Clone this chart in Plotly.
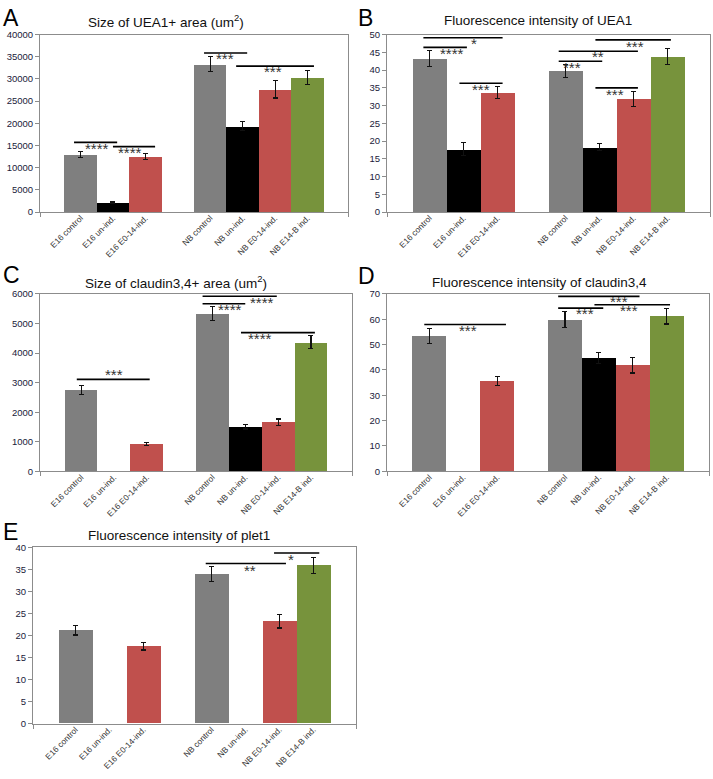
import plotly.graph_objects as go

W, H = 713, 779

# ---------------- data ----------------
categories = ["E16 control", "E16 un-ind.", "E16 E0-14-ind.",
              "NB control", "NB un-ind.", "NB E0-14-ind.", "NB E14-B ind."]
positions = [0, 1, 2, 4, 5, 6, 7]
bar_colors = ["#7f7f7f", "#000000", "#c0504d", "#7f7f7f", "#000000", "#c0504d", "#77933c"]

titles = ["Size of UEA1+ area (um<sup>2</sup>)",
          "Fluorescence intensity of UEA1",
          "Size of claudin3,4+ area (um<sup>2</sup>)",
          "Fluorescence intensity of claudin3,4",
          "Fluorescence intensity of plet1"]
letters = ["A", "B", "C", "D", "E"]

uea1_area = [13000, 2200, 12500, 33300, 19350, 27700, 30400]
uea1_area_err = [700, 150, 650, 1700, 1000, 2000, 1600]

uea1_int = [43.3, 17.7, 33.6, 39.8, 18.3, 31.9, 43.8]
uea1_int_err = [2.3, 1.8, 1.7, 1.9, 0.9, 2.1, 2.3]

cld_area = [2760, None, 935, 5330, 1500, 1660, 4360]
cld_area_err = [150, None, 55, 245, 70, 110, 220]

cld_int = [53.5, None, 35.7, 59.9, 44.7, 41.8, 61.2]
cld_int_err = [2.9, None, 1.7, 3.1, 2.0, 3.0, 3.1]

plet1_int = [21.2, None, 17.55, 33.9, None, 23.2, 35.9]
plet1_int_err = [1.1, None, 0.85, 1.75, None, 1.5, 1.85]

series = [uea1_area, uea1_int, cld_area, cld_int, plet1_int]
series_err = [uea1_area_err, uea1_int_err, cld_area_err, cld_int_err, plet1_int_err]
y_max = [40000, 50, 6000, 70, 40]
y_step = [5000, 5, 1000, 10, 5]

# significance brackets: (x_start, x_end, y_line, label, label_x, label_y)
brackets = [
    [(-0.2, 1.13, 15700, "****", 0.5, 14300),
     (1.0, 2.3, 14750, "****", 1.53, 13350),
     (3.81, 5.14, 35850, "***", 4.46, 34700),
     (4.8, 7.2, 32900, "***", 5.94, 31600)],
    [(-0.18, 2.15, 49.1, "*", 1.3, 47.4),
     (-0.18, 1.1, 46.4, "****", 0.65, 44.6),
     (0.88, 2.15, 36.3, "***", 1.52, 34.5),
     (4.88, 7.1, 48.5, "***", 6.03, 46.55),
     (3.8, 6.13, 45.3, "**", 4.97, 43.7),
     (3.8, 5.08, 42.5, "***", 4.2, 40.7),
     (4.88, 6.13, 35.0, "***", 5.47, 33.1)],
    [(-0.13, 2.09, 3110, "***", 0.99, 3260),
     (3.7, 5.96, 5920, "****", 5.5, 5720),
     (3.7, 5.0, 5665, "****", 4.52, 5460),
     (4.87, 7.12, 4690, "****", 5.46, 4490)],
    [(-0.15, 2.26, 57.9, "***", 1.15, 55.7),
     (3.8, 6.2, 69.0, "***", 5.6, 67.0),
     (4.87, 7.1, 65.7, "***", 5.9, 63.5),
     (3.8, 5.13, 64.4, "***", 4.59, 62.2)],
    [(3.83, 6.19, 36.3, "**", 5.13, 34.7),
     (5.84, 7.17, 38.7, "*", 6.33, 37.3)],
]

# ---------------- layout geometry (pixels) ----------------
rects = [(40, 348, 29, 209), (387, 710, 29, 209),
         (40, 352, 292, 472), (387, 709, 292, 472),
         (33, 356, 549, 728)]
title_pos = [(166, 15), (538, 15), (176, 280), (539, 280), (179, 537)]
letter_pos = [(1, 12), (356, 12), (1, 273), (356, 274), (1, 534)]

def px(x):
    return x / W

def py(y):
    return 1 - y / H

fig = go.Figure()
layout = {}
annotations = []
shapes = []

for i in range(5):
    n = "" if i == 0 else str(i + 1)
    xa, ya = "x" + n, "y" + n
    fig.add_trace(go.Bar(
        x=positions, y=series[i], width=1.0,
        marker=dict(color=bar_colors, line=dict(width=0)),
        error_y=dict(type="data", array=series_err[i], visible=True,
                     color="#111111", thickness=1.1, width=2.5),
        xaxis=xa, yaxis=ya, showlegend=False, hoverinfo="skip",
    ))
    l, r, t, b = rects[i]
    layout["xaxis" + n] = dict(
        domain=[px(l), px(r)], anchor=ya, range=[-1.25, 8.25],
        tickmode="array", tickvals=positions, ticktext=categories,
        tickangle=-45, ticks="", showline=True, linecolor="#8c8c8c",
        linewidth=1, mirror=True, showgrid=False, zeroline=False,
        ticklabelstandoff=-3,
        tickfont=dict(family="Liberation Sans, Arial", size=8.3, color="#333333"),
        minor=dict(tickmode="array", tickvals=[-1.25, 8.25], ticks="outside",
                   ticklen=4, tickcolor="#8c8c8c"),
    )
    layout["yaxis" + n] = dict(
        domain=[py(b), py(t)], anchor=xa, range=[0, y_max[i]],
        tickmode="linear", tick0=0, dtick=y_step[i], tickformat="d",
        ticks="outside", ticklen=4, tickcolor="#8c8c8c",
        showline=True, linecolor="#8c8c8c", linewidth=1, mirror=True,
        showgrid=False, zeroline=False,
        tickfont=dict(family="Liberation Sans, Arial", size=9.5, color="#1a1a3a"),
    )
    tx, ty = title_pos[i]
    annotations.append(dict(text=titles[i], x=px(tx), y=py(ty), xref="paper", yref="paper",
                            xanchor="center", yanchor="middle", showarrow=False,
                            font=dict(family="Liberation Sans, Arial", size=13.5, color="#111111")))
    lx, ly = letter_pos[i]
    annotations.append(dict(text=letters[i], x=px(lx), y=py(ly), xref="paper", yref="paper",
                            xanchor="left", yanchor="middle", showarrow=False,
                            font=dict(family="Liberation Sans, Arial", size=23, color="#000000")))
    for (x0, x1, yl, lab, lxv, lyv) in brackets[i]:
        shapes.append(dict(type="line", xref=xa, yref=ya, x0=x0, x1=x1, y0=yl, y1=yl,
                           line=dict(color="#000000", width=1.6)))
        annotations.append(dict(text=lab, x=lxv, y=lyv, xref=xa, yref=ya, yshift=0,
                                xanchor="center", yanchor="middle", showarrow=False,
                                font=dict(family="Liberation Sans, Arial", size=15, color="#333333")))

fig.update_layout(
    width=W, height=H, margin=dict(l=0, r=0, t=0, b=0),
    paper_bgcolor="white", plot_bgcolor="white",
    annotations=annotations, shapes=shapes, bargap=0,
    **layout,
)

fig.write_html("out.html", config={"displayModeBar": False},
               post_script="document.body.style.margin='0';document.body.style.overflow='hidden';")
